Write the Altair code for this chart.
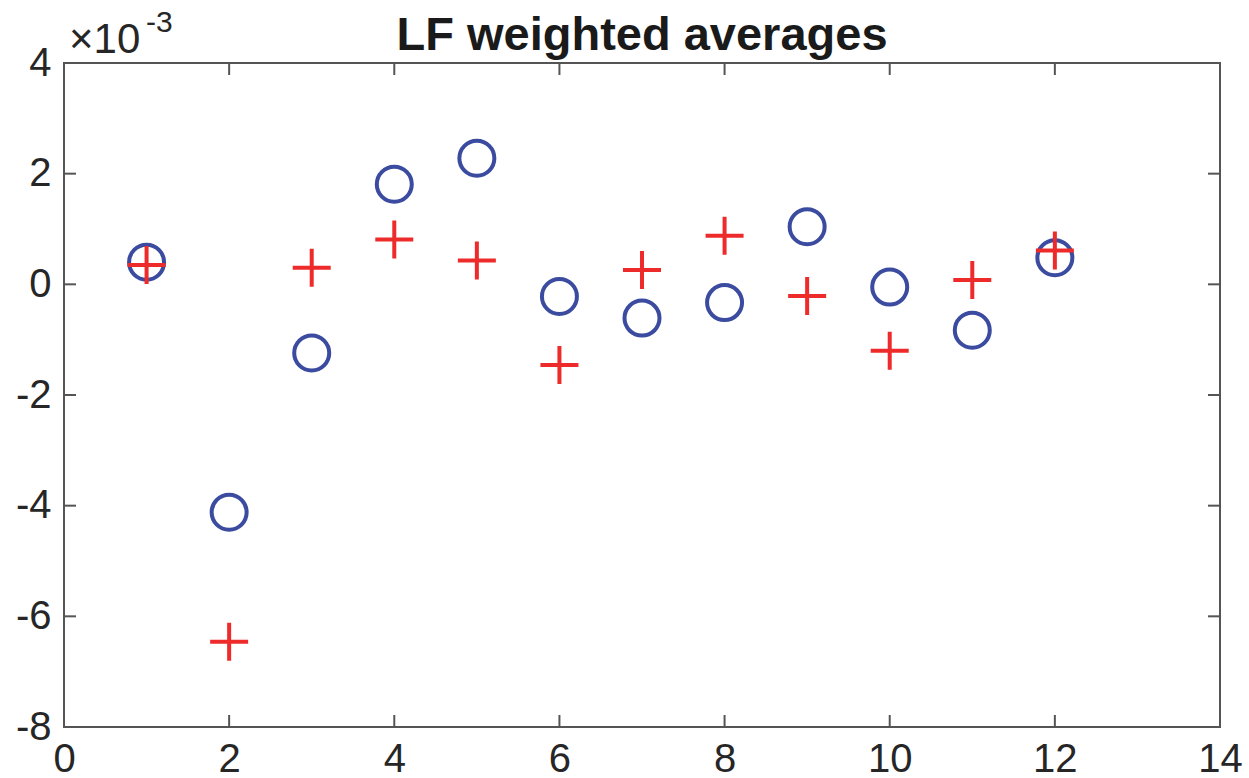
import altair as alt
import pandas as pd

# Weighted LF averages per index (values in units of 1e-3)
index = [1, 2, 3, 4, 5, 6, 7, 8, 9, 10, 11, 12]
circle_vals = [0.40, -4.12, -1.24, 1.81, 2.28, -0.22, -0.61, -0.33, 1.04, -0.05, -0.83, 0.48]
cross_vals = [0.35, -6.46, 0.30, 0.81, 0.43, -1.46, 0.26, 0.88, -0.21, -1.20, 0.08, 0.61]

x_ticks = [0, 2, 4, 6, 8, 10, 12, 14]
y_ticks = [-8, -6, -4, -2, 0, 2, 4]

W, H = 1156, 664
FONT = "Liberation Sans"
FRAME = "#555555"
TEXT = "#262626"

pts = pd.DataFrame({"i": index, "circ": circle_vals, "cross": cross_vals})
xt = pd.DataFrame({"x": x_ticks})
yt = pd.DataFrame({"y": y_ticks})

xscale = alt.Scale(domain=[0, 14], nice=False, zero=False)
yscale = alt.Scale(domain=[-8, 4], nice=False, zero=False)

x_axis = alt.Axis(values=x_ticks, labelExpr="'' + datum.value", ticks=False, domain=False,
                  grid=False, title=None, labelFont=FONT, labelFontSize=40,
                  labelColor=TEXT, labelPadding=12, labelFlush=False)
y_axis = alt.Axis(values=y_ticks, labelExpr="'' + datum.value", ticks=False, domain=False,
                  grid=False, title=None, labelFont=FONT, labelFontSize=40,
                  labelColor=TEXT, labelPadding=13, labelFlush=False)


def X(field):
    return alt.X(field, type="quantitative", scale=xscale, axis=x_axis)


def Y(field):
    return alt.Y(field, type="quantitative", scale=yscale, axis=y_axis)


circles = alt.Chart(pts).mark_point(
    shape="circle", filled=False, size=1225, strokeWidth=4, color="#3a4ba0", opacity=1
).encode(x=X("i"), y=Y("circ"))

crosses = alt.Chart(pts).mark_point(
    shape="M-1,0H1M0,-1V1", filled=False, size=1444, strokeWidth=4, color="#ee2b2b", opacity=1
).encode(x=X("i"), y=Y("cross"))

# box around the plot area
frame = alt.Chart(pd.DataFrame({"k": [0]})).mark_rect(
    fill="transparent", stroke=FRAME, strokeWidth=2
).encode(x=alt.value(0), x2=alt.value(W), y=alt.value(0), y2=alt.value(H))

# inward tick marks on all four sides of the box
tick_style = dict(color=FRAME, strokeWidth=2)
bottom_ticks = alt.Chart(xt).mark_rule(**tick_style).encode(
    x=X("x"), y=alt.value(H), y2=alt.value(H - 12))
top_ticks = alt.Chart(xt).mark_rule(**tick_style).encode(
    x=X("x"), y=alt.value(0), y2=alt.value(12))
left_ticks = alt.Chart(yt).mark_rule(**tick_style).encode(
    y=Y("y"), x=alt.value(0), x2=alt.value(12))
right_ticks = alt.Chart(yt).mark_rule(**tick_style).encode(
    y=Y("y"), x=alt.value(W), x2=alt.value(W - 12))

title = alt.Chart(pd.DataFrame({"t": ["LF weighted averages"]})).mark_text(
    font=FONT, fontSize=47, fontWeight="bold", color="#1a1a1a", align="center", baseline="alphabetic"
).encode(text="t:N", x=alt.value(W / 2), y=alt.value(-13))

exp_base = alt.Chart(pd.DataFrame({"t": ["×10"]})).mark_text(
    font=FONT, fontSize=42, color=TEXT, align="left", baseline="alphabetic"
).encode(text="t:N", x=alt.value(5), y=alt.value(-10))

exp_pow = alt.Chart(pd.DataFrame({"t": ["-3"]})).mark_text(
    font=FONT, fontSize=30, color=TEXT, align="left", baseline="alphabetic"
).encode(text="t:N", x=alt.value(82), y=alt.value(-31))

chart = alt.layer(
    frame, bottom_ticks, top_ticks, left_ticks, right_ticks, circles, crosses,
    title, exp_base, exp_pow
).properties(
    width=W, height=H,
    autosize=alt.AutoSizeParams(type="none"),
    padding={"left": 64, "top": 63, "right": 29, "bottom": 51},
).configure_view(
    stroke=None
).configure(background="white")

chart.save("out.html", embed_options={"renderer": "svg", "actions": False})
